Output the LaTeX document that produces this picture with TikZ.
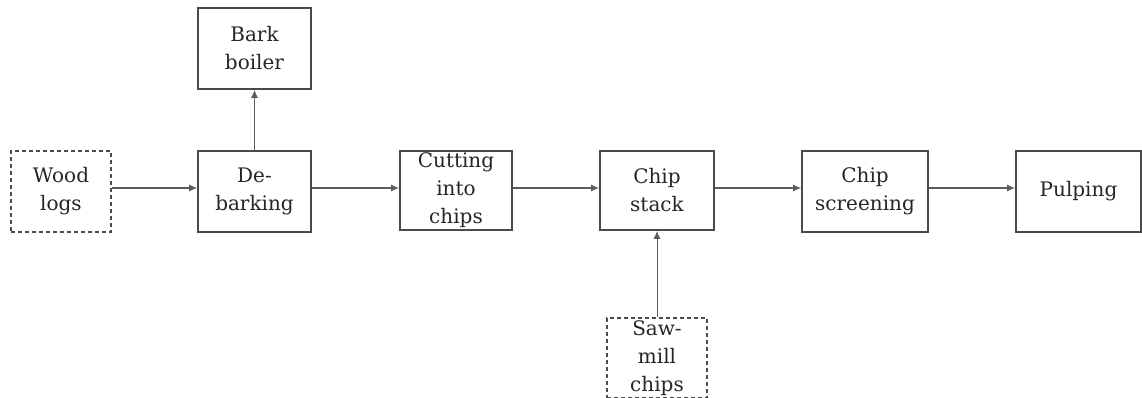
\documentclass[tikz,border=0pt]{standalone}
\usepackage{fontspec}
\setmainfont{DejaVu Serif}
\usetikzlibrary{arrows.meta}
\definecolor{lc}{HTML}{4a4a4a}
\definecolor{tc}{HTML}{262626}
\begin{document}
\begin{tikzpicture}[x=1pt,y=-1pt,
  box/.style={draw=lc,line width=1.8pt,minimum width=#1,minimum height=81pt,inner sep=0pt,
    align=center,text=tc,font=\fontsize{20}{28}\selectfont},
  box/.default=113pt,
  dbox/.style={box=100pt,dashed,dash pattern=on 4pt off 3pt},
  conn/.style={draw=lc!90,line width=1pt,-{Latex[length=8pt,width=7pt]}}]
\useasboundingbox (0,0) rectangle (1142,398);
\fill[white] (0,0) rectangle (1142,398);
\node[dbox] (wood) at (61,191.5) {Wood\\logs};
\node[box] (deb) at (254.5,191.5) {De-\\barking};
\node[box] (bark) at (254.5,48.5) {Bark\\boiler};
\node[box=112pt,minimum height=79pt] (cut) at (456,190.5) {Cutting\\into\\chips};
\node[box=114pt,minimum height=79pt] (stack) at (657,190.5) {Chip\\stack};
\node[box=126pt] (screen) at (865,191.5) {Chip\\screening};
\node[box=125pt] (pulp) at (1078.5,191.5) {Pulping};
\node[dbox,minimum height=80pt] (saw) at (657,358) {Saw-\\mill\\chips};
\draw[conn] (wood.east |- 0,188) -- (deb.west |- 0,188);
\draw[conn] (deb.east |- 0,188) -- (cut.west |- 0,188);
\draw[conn] (cut.east |- 0,188) -- (stack.west |- 0,188);
\draw[conn] (stack.east |- 0,188) -- (screen.west |- 0,188);
\draw[conn] (screen.east |- 0,188) -- (pulp.west |- 0,188);
\draw[conn] (deb.north) -- (bark.south);
\draw[conn] (saw.north) -- (stack.south);
\end{tikzpicture}
\end{document}
